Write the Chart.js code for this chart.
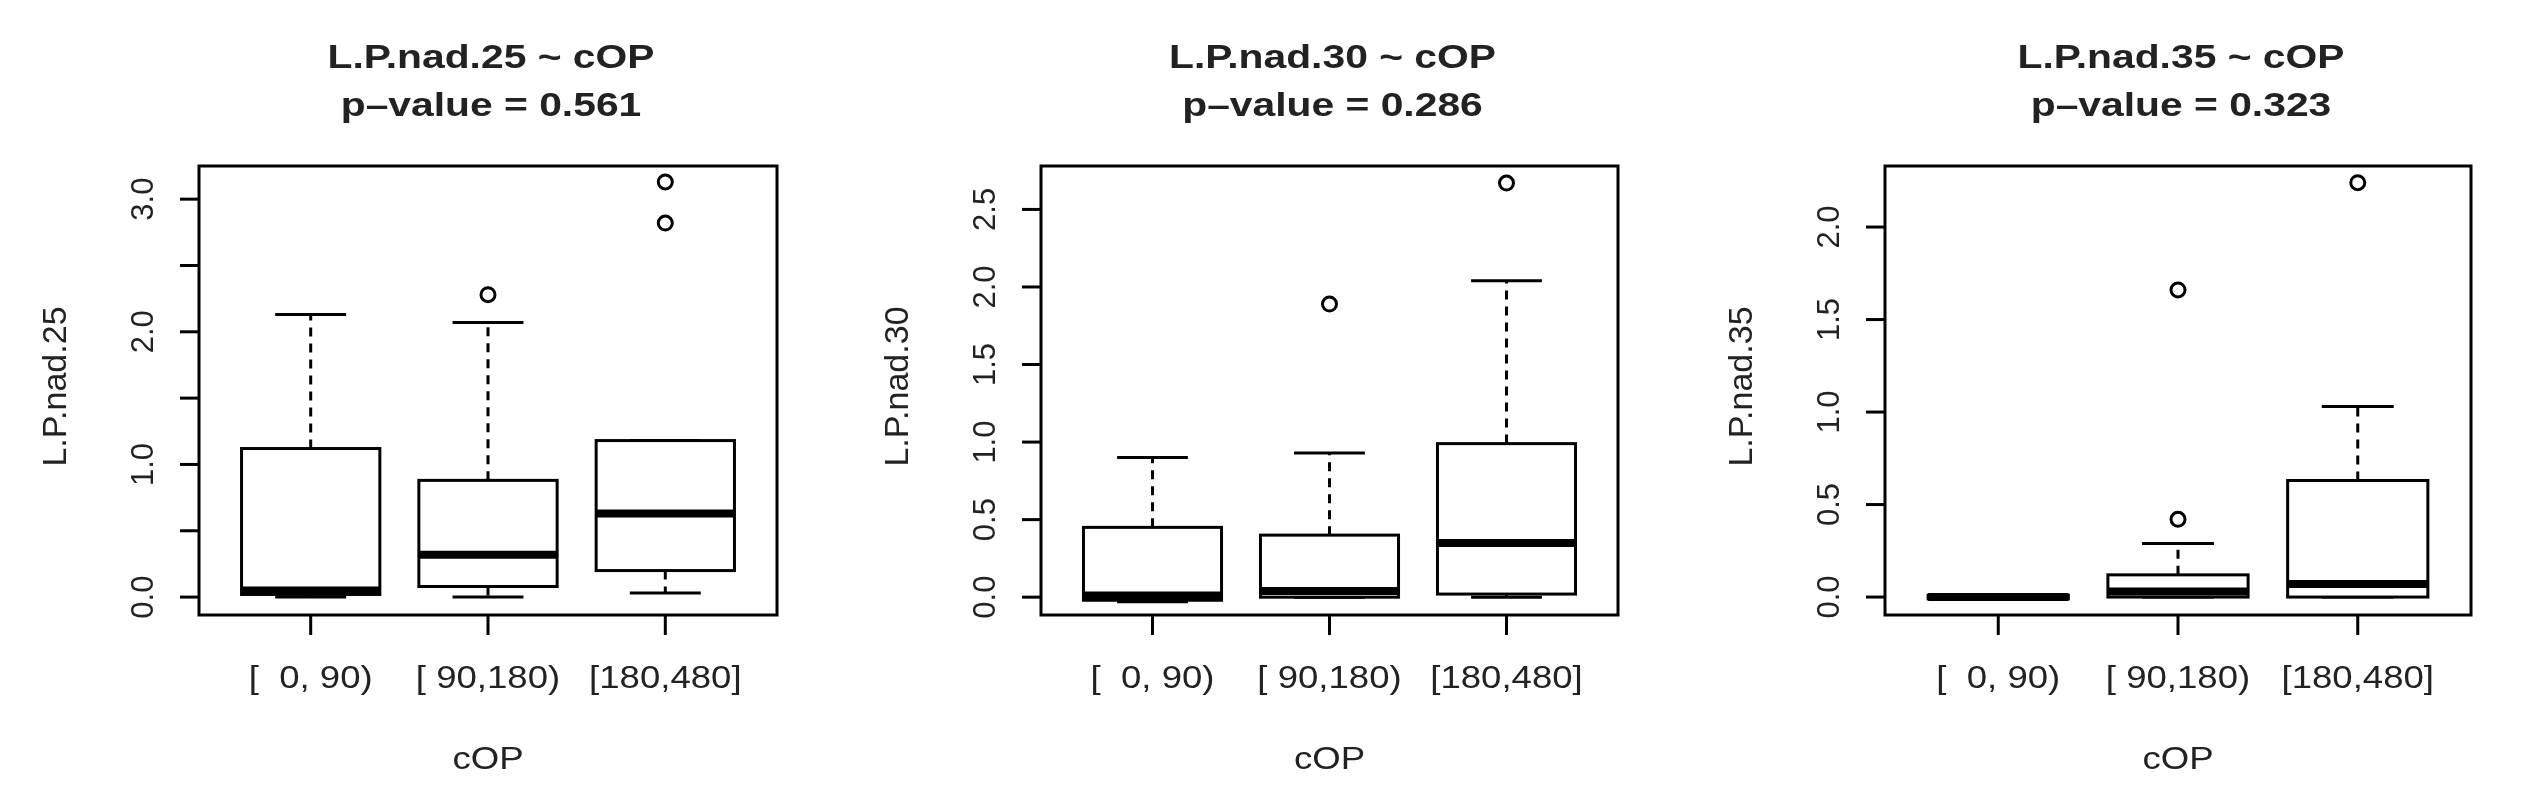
<!DOCTYPE html>
<html>
<head>
<meta charset="utf-8">
<script src="https://cdn.jsdelivr.net/npm/chart.js@4/dist/chart.umd.min.js"></script>
<style>
  body { margin: 0; background: #fff; }
  .panel { position: absolute; top: 0; height: 800px; }
</style>
</head>
<body>
<div class="panel" style="left:0;width:850px"><canvas id="c1"></canvas></div>
<div class="panel" style="left:850px;width:850px"><canvas id="c2"></canvas></div>
<div class="panel" style="left:1700px;width:833px"><canvas id="c3"></canvas></div>
<script>
// ---- data ----
const categories = ["[  0, 90)", "[ 90,180)", "[180,480]"];

// [lower whisker, Q1, median, Q3, upper whisker] per category
const stats25 = [[0.0, 0.02, 0.05, 1.12, 2.13], [0.0, 0.08, 0.32, 0.88, 2.07], [0.03, 0.20, 0.63, 1.18, 1.18]];
const outliers25 = [[], [2.28], [2.82, 3.13]];
const ticks25 = [0, 0.5, 1, 1.5, 2, 2.5, 3];
const labels25 = ["0.0", "", "1.0", "", "2.0", "", "3.0"];

const stats30 = [[-0.03, -0.02, 0.01, 0.45, 0.90], [0.0, 0.0, 0.04, 0.40, 0.93], [0.0, 0.02, 0.35, 0.99, 2.04]];
const outliers30 = [[], [1.89], [2.67]];
const ticks30 = [0, 0.5, 1, 1.5, 2, 2.5];
const labels30 = ["0.0", "0.5", "1.0", "1.5", "2.0", "2.5"];

const stats35 = [[-0.01, -0.01, 0.0, 0.01, 0.01], [0.0, 0.0, 0.03, 0.12, 0.29], [0.0, 0.0, 0.07, 0.63, 1.03]];
const outliers35 = [[], [0.42, 1.66], [2.24]];
const ticks35 = [0, 0.5, 1, 1.5, 2];
const labels35 = ["0.0", "0.5", "1.0", "1.5", "2.0"];

const TXT = "#222";
const FONT = "'Liberation Sans', Arial, sans-serif";

// text stretched horizontally a bit, like the reference
function wideText(ctx, s, x, y, sx) {
    ctx.save();
    ctx.translate(x, y);
    ctx.scale(sx, 1);
    ctx.fillText(s, 0, 0);
    ctx.restore();
}

/* ----------------------------------------
   BOXPLOT PLUGIN (R style)
---------------------------------------- */
const boxPlugin = {
    id: "rbox",
    afterDatasetsDraw(chart, args, o) {
        const ctx = chart.ctx;
        const xs = chart.scales.x, ys = chart.scales.y;
        const a = chart.chartArea;
        ctx.save();
        ctx.strokeStyle = "#000";
        ctx.lineCap = "butt";

        o.stats.forEach((s, i) => {
            const cx = xs.getPixelForValue(i + 1);
            const bw = xs.getPixelForValue(i + 1 + 0.39) - cx;
            const cw = xs.getPixelForValue(i + 1 + 0.2) - cx;
            const [lo, q1, med, q3, hi] = s.map(v => ys.getPixelForValue(v));
            // whiskers
            ctx.lineWidth = 3;
            ctx.setLineDash([9, 7]);
            ctx.beginPath();
            ctx.moveTo(cx, q3); ctx.lineTo(cx, hi);
            ctx.moveTo(cx, q1); ctx.lineTo(cx, lo);
            ctx.stroke();
            ctx.setLineDash([]);
            ctx.beginPath();
            ctx.moveTo(cx - cw, hi); ctx.lineTo(cx + cw, hi);
            ctx.moveTo(cx - cw, lo); ctx.lineTo(cx + cw, lo);
            ctx.stroke();
            // box
            ctx.fillStyle = "#fff";
            ctx.fillRect(cx - bw, q3, 2 * bw, q1 - q3);
            ctx.strokeRect(cx - bw, q3, 2 * bw, q1 - q3);
            // median
            ctx.lineWidth = 8;
            ctx.beginPath();
            ctx.moveTo(cx - bw, med); ctx.lineTo(cx + bw, med);
            ctx.stroke();
        });

        // frame
        ctx.lineWidth = 3;
        ctx.strokeRect(a.left, a.top, a.right - a.left, a.bottom - a.top);

        // y ticks + rotated labels
        ctx.fillStyle = TXT;
        ctx.font = "31px " + FONT;
        ctx.textAlign = "center";
        ctx.textBaseline = "middle";
        o.ticks.forEach((t, i) => {
            const y = ys.getPixelForValue(t);
            ctx.beginPath();
            ctx.moveTo(a.left - 19, y); ctx.lineTo(a.left, y);
            ctx.stroke();
            if (o.labels[i]) {
                ctx.save();
                ctx.translate(a.left - 55, y);
                ctx.rotate(-Math.PI / 2);
                ctx.fillText(o.labels[i], 0, 0);
                ctx.restore();
            }
        });

        // x ticks + labels
        categories.forEach((c, i) => {
            const x = xs.getPixelForValue(i + 1);
            ctx.beginPath();
            ctx.moveTo(x, a.bottom); ctx.lineTo(x, a.bottom + 20);
            ctx.stroke();
            wideText(ctx, c, x, 679, 1.18);
        });

        const mid = (a.left + a.right) / 2;
        ctx.font = "31px " + FONT;
        wideText(ctx, "cOP", mid, 760, 1.18);
        ctx.font = "34px " + FONT;
        ctx.save();
        ctx.translate(a.left - 142, (a.top + a.bottom) / 2 - 4);
        ctx.rotate(-Math.PI / 2);
        ctx.fillText(o.yTitle, 0, 0);
        ctx.restore();

        ctx.font = "bold 34px " + FONT;
        wideText(ctx, o.yTitle + " ~ cOP", mid + 3, 59, 1.2);
        wideText(ctx, "p\u2013value = " + o.p, mid + 3, 107, 1.2);
        ctx.restore();
    }
};

function makeChart(id, stats, outliers, ticks, labels, yMin, yMax, pad, yTitle, p) {
    const pts = [];
    outliers.forEach((arr, i) => arr.forEach(v => pts.push({ x: i + 1, y: v })));
    new Chart(document.getElementById(id), {
        type: "scatter",
        data: {
            datasets: [{
                data: pts,
                pointStyle: "circle",
                pointRadius: 7,
                borderWidth: 3,
                borderColor: "#000",
                backgroundColor: "rgba(0,0,0,0)"
            }]
        },
        options: {
            responsive: true,
            maintainAspectRatio: false,
            animation: false,
            events: [],
            layout: { padding: pad },
            plugins: {
                legend: { display: false },
                tooltip: { enabled: false },
                rbox: { stats: stats, ticks: ticks, labels: labels, yTitle: yTitle, p: p }
            },
            scales: {
                x: { type: "linear", min: 0.37, max: 3.63, display: false },
                y: { min: yMin, max: yMax, display: false }
            }
        },
        plugins: [boxPlugin]
    });
}

makeChart("c1", stats25, outliers25, ticks25, labels25, -0.135, 3.25,
    { left: 199, right: 73, top: 166, bottom: 185 }, "L.P.nad.25", "0.561");
makeChart("c2", stats30, outliers30, ticks30, labels30, -0.115, 2.78,
    { left: 191, right: 82, top: 166, bottom: 185 }, "L.P.nad.30", "0.286");
makeChart("c3", stats35, outliers35, ticks35, labels35, -0.097, 2.33,
    { left: 185, right: 62, top: 166, bottom: 185 }, "L.P.nad.35", "0.323");
</script>
</body>
</html>
